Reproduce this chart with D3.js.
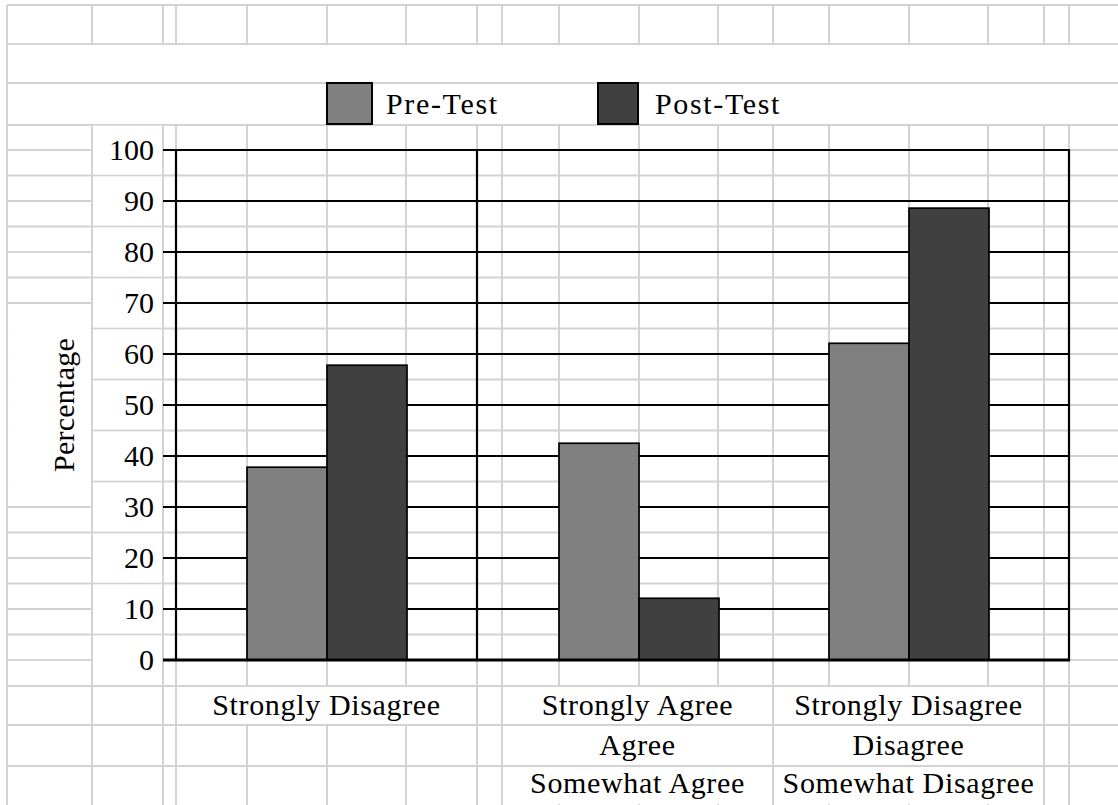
<!DOCTYPE html>
<html><head><meta charset="utf-8">
<script src="https://cdn.jsdelivr.net/npm/d3@7"></script>
<style>
body{margin:0;background:#fff}
svg{display:block}
</style>
</head><body>
<svg id="c" width="1118" height="805"></svg>
<script>
// ---- data ----
const categories = ["Strongly Disagree", "Agree group", "Disagree group"];
const categoryLabels = [
  ["Strongly Disagree"],
  ["Strongly Agree", "Agree", "Somewhat Agree"],
  ["Strongly Disagree", "Disagree", "Somewhat Disagree"]
];
const seriesNames = ["Pre-Test", "Post-Test"];
const preTest = [37.8, 42.5, 62.1];
const postTest = [57.8, 12.1, 88.6];
const yTickValues = [0, 10, 20, 30, 40, 50, 60, 70, 80, 90, 100];
const yAxisTitle = "Percentage";

// ---- layout ----
const W = 1118, H = 805;
const plot = {left: 176, right: 1069, top: 150, bottom: 660};
const colEdges = [7, 92, 163, 176, 247, 327, 406, 477, 502, 559, 639, 718, 773, 829, 909, 988, 1044, 1069];
const groupCenters = [327, 639, 909];
const labelCells = [[176, 477], [502, 773], [773, 1044]];
const bottomRows = [686, 725, 766, 805];
const topRows = [5, 44, 83, 125];
const colors = {"Pre-Test": "#808080", "Post-Test": "#404040"};
const gridGray = "#d3d3d3";
const FS = 30;
const FONT = "Liberation Serif";

const svg = d3.select("#c");
svg.append("rect").attr("width", W).attr("height", H).attr("fill", "#fff");

const y = d3.scaleLinear().domain([0, 100]).range([plot.bottom, plot.top]);
const xGroup = d3.scaleOrdinal().domain(categories).range(groupCenters);
const xSub = d3.scaleBand().domain(seriesNames).range([-80, 80]);

// ---- spreadsheet background grid ----
const plotRows = d3.range(0, 100.01, 5).map(v => y(v));
const rowLines = topRows.concat(plotRows).concat(bottomRows.slice(0, 3));
const bg = svg.append("g");
bg.selectAll("line.h").data(rowLines).join("line")
  .attr("x1", colEdges[0]).attr("x2", W).attr("y1", d => d).attr("y2", d => d)
  .attr("stroke", gridGray).attr("stroke-width", 2);
bg.selectAll("line.v").data(colEdges).join("line")
  .attr("x1", d => d).attr("x2", d => d).attr("y1", topRows[0]).attr("y2", H)
  .attr("stroke", gridGray).attr("stroke-width", 2);

// merged cells (white cover)
const merged = [];
merged.push([colEdges[0], W + 5, topRows[1], topRows[2]]);
merged.push([colEdges[0], W + 5, topRows[2], topRows[3]]);
yTickValues.forEach(v => merged.push([colEdges[1], colEdges[2], y(v) - 25.5, y(v) + 25.5]));
merged.push([colEdges[0], colEdges[1], y(70), y(30)]);
categoryLabels.forEach((lines, i) => {
  lines.forEach((l, j) => merged.push([labelCells[i][0], labelCells[i][1], bottomRows[j], bottomRows[j + 1]]));
});
bg.selectAll("rect.m").data(merged).join("rect")
  .attr("x", d => d[0] + 1.2).attr("y", d => d[2] + 1.2)
  .attr("width", d => d[1] - d[0] - 2.4).attr("height", d => d[3] - d[2] - 2.4)
  .attr("fill", "#fff");

// ---- chart frame & gridlines ----
const fg = svg.append("g").attr("font-family", FONT);
fg.selectAll("line.grid").data(yTickValues.filter(v => v > 0)).join("line")
  .attr("x1", colEdges[2]).attr("x2", plot.right)
  .attr("y1", d => y(d)).attr("y2", d => y(d))
  .attr("stroke", "#000").attr("stroke-width", 2.2);
[plot.left, 477, plot.right].forEach(xv => {
  fg.append("line").attr("x1", xv).attr("x2", xv).attr("y1", plot.top - 1).attr("y2", plot.bottom)
    .attr("stroke", "#000").attr("stroke-width", 2.2);
});

// ---- bars ----
const data = categories.map((c, i) => ({cat: c, values: [preTest[i], postTest[i]]}));
const groups = fg.selectAll("g.grp").data(data).join("g")
  .attr("transform", d => `translate(${xGroup(d.cat)},0)`);
groups.selectAll("rect").data(d => seriesNames.map((s, k) => ({s, v: d.values[k]}))).join("rect")
  .attr("x", d => xSub(d.s)).attr("width", xSub.bandwidth())
  .attr("y", d => y(d.v)).attr("height", d => y(0) - y(d.v))
  .attr("fill", d => colors[d.s]).attr("stroke", "#000").attr("stroke-width", 1.7);

fg.append("line").attr("x1", colEdges[2]).attr("x2", plot.right + 1)
  .attr("y1", y(0)).attr("y2", y(0)).attr("stroke", "#000").attr("stroke-width", 3);

// ---- y axis labels ----
fg.selectAll("text.yt").data(yTickValues).join("text")
  .attr("font-family", FONT)
  .attr("x", 154).attr("y", d => y(d) + 10)
  .attr("text-anchor", "end").attr("font-size", FS).text(d => d);

fg.append("text").attr("font-family", FONT)
  .attr("transform", `translate(74,${(plot.top + plot.bottom) / 2}) rotate(-90)`)
  .attr("text-anchor", "middle").attr("font-size", FS).attr("letter-spacing", 0.25)
  .text(yAxisTitle);

// ---- category labels ----
const baselines = [715, 755, 793];
categoryLabels.forEach((lines, i) => {
  const cx = (labelCells[i][0] + labelCells[i][1]) / 2;
  fg.selectAll(null).data(lines).join("text")
    .attr("font-family", FONT)
    .attr("x", cx).attr("y", (d, j) => baselines[j])
    .attr("text-anchor", "middle").attr("font-size", FS)
    .attr("letter-spacing", 0.65)
    .text(d => d);
});

// ---- legend ----
const legendItems = [
  {name: seriesNames[0], x: 327, w: 45, tx: 386},
  {name: seriesNames[1], x: 598, w: 40, tx: 655}
];
const lg = fg.selectAll("g.lg").data(legendItems).join("g");
lg.append("rect").attr("x", d => d.x).attr("y", 83).attr("width", d => d.w).attr("height", 41)
  .attr("fill", d => colors[d.name]).attr("stroke", "#000").attr("stroke-width", 2);
lg.append("text").attr("font-family", FONT).attr("x", d => d.tx).attr("y", 114).attr("font-size", FS)
  .attr("letter-spacing", 1.65).text(d => d.name);
</script>
</body></html>
